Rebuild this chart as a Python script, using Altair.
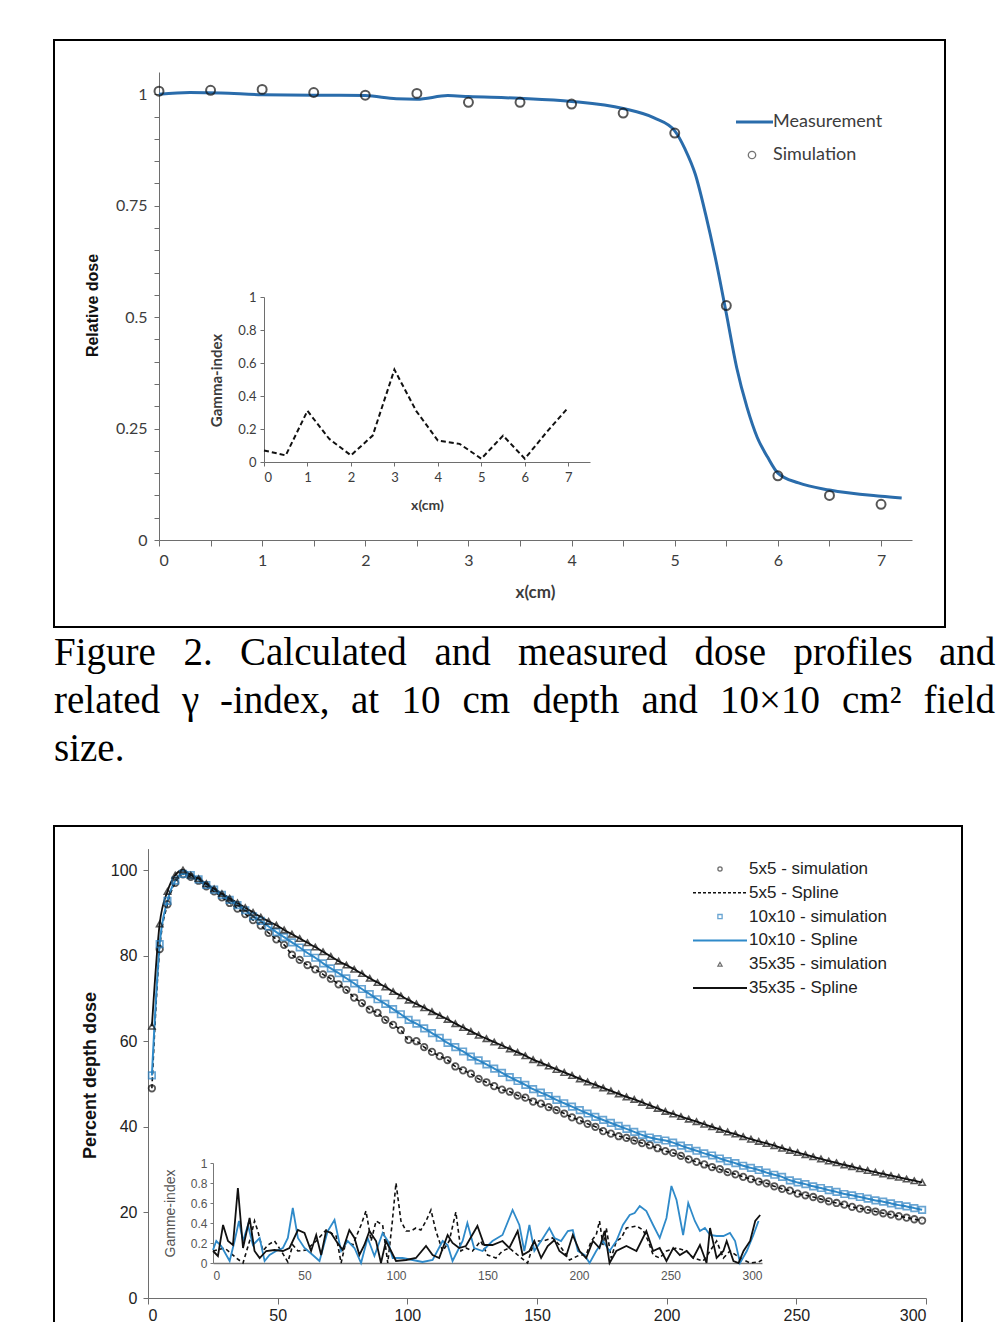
import altair as alt
import pandas as pd

W, H = 988, 1314


def P(v):
    """page pixel -> plot pixel (page has an 8px margin)"""
    return v - 8


# ---------------- Figure 2 : dose profile ----------------
prof_x = [0, 0.5, 1, 1.5, 2, 2.5, 3, 3.5, 4, 4.5, 5, 5.5, 6, 6.5, 7]
prof_sim = [1.007, 1.009, 1.011, 1.004, 0.998, 1.002, 0.982, 0.982, 0.978, 0.958,
            0.913, 0.526, 0.144, 0.100, 0.080]
prof_gamma = [0.07, 0.04, 0.31, 0.14, 0.04, 0.16, 0.56, 0.31, 0.13, 0.11,
              0.02, 0.16, 0.02, 0.18, 0.33]
meas_x = [0, 0.3, 0.6, 1.0, 1.5, 2.0, 2.3, 2.5, 2.8, 3.0, 3.5, 4.0, 4.5, 4.8, 5.0,
          5.1, 5.2, 5.3, 5.4, 5.5, 5.6, 5.7, 5.8, 5.9, 6.0, 6.2, 6.5, 7.0, 7.2]
meas_y = [1.000, 1.004, 1.003, 0.999, 0.998, 0.997, 0.990, 0.989, 0.997, 0.995,
          0.991, 0.984, 0.968, 0.947, 0.918, 0.877, 0.820, 0.730, 0.626, 0.508,
          0.387, 0.298, 0.230, 0.186, 0.150, 0.128, 0.112, 0.098, 0.094]
top_legend = ["Measurement", "Simulation"]

# ---------------- caption ----------------
cap_words = [["Figure", "2.", "Calculated", "and", "measured", "dose", "profiles", "and"],
             ["related", "\u03b3", "-index,", "at", "10", "cm", "depth", "and", "10\u00d710",
              "cm\u00b2", "field"],
             ["size."]]
cap_x = [[54, 183.5, 240, 434.5, 518, 694.5, 793.5, 939],
         [54, 182, 220, 351, 401.5, 462.5, 532.5, 641.5, 720, 842, 923.5],
         [54]]

# ---------------- PDD figure ----------------
depth = [1.5 + 3 * i for i in range(100)]
pdd_5 = [49, 81.5, 92, 97, 99, 98.4, 97.5, 96.2, 95, 93.6,
         92.3, 91, 89.7, 88.3, 87, 85.3, 83.8, 82.5, 80.2, 79,
         77.8, 76.8, 75.6, 74.6, 73.3, 72, 70.2, 68.9, 67.4, 66.6,
         65, 63.8, 62.6, 60.3, 60, 58.6, 57.5, 56.5, 55.6, 54.1,
         53.2, 52.4, 51.2, 50.4, 49.5, 48.7, 48.2, 47.3, 46.8, 45.9,
         45.4, 44.6, 43.9, 43.1, 42.2, 41.5, 40.7, 40, 39, 38.4,
         37.8, 37.4, 36.8, 36.2, 35.7, 35, 34.3, 33.9, 33.2, 32.4,
         31.8, 31.2, 30.6, 30.1, 29.4, 28.9, 28.3, 27.8, 27.2, 26.8,
         26.1, 25.5, 25.1, 24.4, 24.0, 23.6, 23.1, 22.6, 22.2, 21.8,
         21.3, 20.9, 20.6, 20.2, 19.8, 19.5, 19.1, 18.8, 18.4, 18.1]
pdd_10 = [52, 82.7, 92.8, 97.5, 99.1, 98.8, 97.8, 96.5, 95.4, 94.2,
          93, 91.8, 90.6, 89.2, 88.1, 86.8, 85.5, 84.3, 83.1, 81.9,
          80.6, 79.5, 78.2, 77, 75.9, 74.7, 73.5, 72.2, 71, 69.8,
          68.7, 67.5, 66.3, 65, 64.1, 63, 61.9, 60.8, 59.6, 58.6,
          57.6, 56.4, 55.5, 54.6, 53.6, 52.6, 51.6, 50.7, 49.8, 48.8,
          48, 47.2, 46.3, 45.5, 44.7, 43.9, 43.1, 42.3, 41.6, 40.9,
          40.2, 39.5, 38.8, 38.1, 37.5, 37.1, 36.8, 36.3, 35.6, 35,
          34.4, 33.8, 33.3, 32.6, 32, 31.5, 30.9, 30.4, 29.9, 29.3,
          28.8, 28.3, 27.5, 27, 26.6, 26.1, 25.7, 25.2, 24.8, 24.3,
          24, 23.6, 23.2, 22.8, 22.5, 22.1, 21.7, 21.4, 21, 20.6]
pdd_35 = [63.5, 87.4, 95, 98.8, 100, 98.8, 98, 96.8, 95.6, 94.5,
          93.4, 92.3, 91.2, 90.1, 89, 88, 87.1, 86, 85, 84,
          83, 82, 80.9, 79.8, 78.7, 77.8, 76.8, 75.8, 74.7, 73.7,
          72.7, 71.6, 70.6, 69.6, 68.7, 67.8, 66.9, 66, 65.1, 64.1,
          63.2, 62.3, 61.4, 60.6, 59.8, 59, 58.2, 57.4, 56.6, 55.7,
          55, 54.2, 53.4, 52.7, 52, 51.2, 50.5, 49.8, 49.1, 48.4,
          47.7, 47, 46.4, 45.7, 45, 44.3, 43.6, 43, 42.4, 41.8,
          41.2, 40.6, 40, 39.4, 38.8, 38.3, 37.7, 37.1, 36.6, 36.1,
          35.6, 35, 34.5, 34, 33.5, 33, 32.5, 32, 31.6, 31.1,
          30.7, 30.2, 29.8, 29.4, 29, 28.6, 28.2, 27.8, 27.4, 27]

g5_d = [0, 6.4, 12.7, 16.4, 20, 22.7, 24.5, 27.3, 30, 33.6, 37.3, 40.9, 43.6, 46.4, 50.9,
        56.4, 61.8, 64.5, 67.3, 70, 72.7, 76.4, 80.9, 83.6, 86.4, 89.1, 92.7, 95.5, 97.8, 100,
        102.7, 105.5, 108.2, 110.9, 113.6, 116.4, 119.1, 121.8, 125.5, 129.1, 132.7, 135.5,
        138.2, 141.8, 146.3, 150, 154.6, 158.2, 161.9, 166.5, 171.9, 175.6, 180.2, 185.6,
        189.3, 194.8, 200.3, 203.9, 206.7, 209.4, 211.2, 213.1, 214.9, 217.6, 220.4, 223.1,
        225.9, 231.4, 235, 237.8, 240.5, 244.1, 247.8, 253.3, 258.8, 262.4, 267.9, 271.6,
        275.2, 278.9, 282.5, 288, 293.5, 298.1, 300]
g5_v = [0.12, 0.15, 0.05, 0, 0.22, 0.42, 0.32, 0.12, 0.18, 0.22, 0.12, 0.01, 0.18, 0.12, 0.13,
        0.22, 0.33, 0.3, 0.27, 0, 0.22, 0.18, 0.38, 0.52, 0.22, 0.42, 0.38, 0, 0.38, 0.8,
        0.42, 0.32, 0.32, 0.35, 0.33, 0.42, 0.53, 0.32, 0.12, 0.22, 0.51, 0.12,
        0.15, 0.12, 0.22, 0.08, 0.05, 0.12, 0.15, 0.08, 0, 0.22, 0.22, 0.25,
        0.18, 0.03, 0.08, 0.08, 0.22, 0.28, 0.42, 0.18, 0.35, 0.05, 0.22, 0.25,
        0.35, 0.37, 0.33, 0.22, 0.08, 0.05, 0.12, 0.15, 0.12, 0.05, 0.02, 0.12,
        0.22, 0.05, 0.12, 0.05, 0, 0.01, 0.03]
g10_d = [0, 1.8, 4.5, 9.1, 11.8, 14.2, 16.4, 19.1, 21.8, 25.5, 28.2, 30.9, 34.5, 38.2, 40.9,
         43.6, 46.4, 50, 54.5, 58.2, 62.7, 66.4, 70, 73.6, 77.3, 80.9, 84.5, 88.2, 92.7, 95.5,
         98.2, 103.6, 109.1, 114.5, 120, 125.5, 128.2, 130.9, 136.4, 139, 142.7, 147.3, 152.7,
         158.2, 163.7, 167.4, 170.1, 172.9, 175.6, 179.3, 183.8, 186.6, 190.2, 193.9, 196.6,
         199.4, 203, 205.8, 209.4, 213.1, 216.7, 220.4, 224, 227.7, 230.4, 233.2, 236.8, 240.5,
         244.1, 247.8, 250.5, 253.3, 256.9, 259.7, 263.3, 266.1, 268.8, 271.6, 275.2, 278.9,
         282.5, 285.3, 288, 291.7, 295.3, 298.1]
g10_v = [0.13, 0.22, 0.17, 0.02, 0.22, 0.42, 0.22, 0.38, 0.18, 0.25, 0.02, 0.08, 0.12, 0.15, 0.25,
         0.55, 0.25, 0.15, 0.08, 0.02, 0.32, 0.43, 0.12, 0.22, 0.15, 0, 0.25, 0.07, 0.3, 0.22,
         0.05, 0.05, 0.03, 0.01, 0.03, 0.22, 0.18, 0.02, 0.22, 0.4, 0.15, 0.12, 0.22,
         0.28, 0.53, 0.38, 0.12, 0.38, 0.12, 0.22, 0.35, 0.25, 0.22, 0.32, 0.33,
         0.12, 0.08, 0, 0.12, 0.22, 0.12, 0.22, 0.38, 0.48, 0.5, 0.57, 0.52, 0.38,
         0.25, 0.45, 0.77, 0.63, 0.28, 0.6, 0.42, 0.32, 0.35, 0.28, 0.27, 0.27,
         0.3, 0.22, 0, 0.12, 0.28, 0.42]
g35_d = [0, 2.7, 5.5, 8.2, 10.9, 13.6, 16.4, 18.2, 20, 22.7, 25.5, 29.1, 33.6, 38.2, 41.8,
         46.4, 50, 53.6, 56.4, 59.1, 61.8, 64.5, 67.3, 70.9, 74.5, 77.3, 80, 82.7, 85.5, 89.1,
         91.8, 94.5, 97.3, 100, 105.5, 110.9, 116.4, 120, 123.6, 128.2, 130.9, 134.5, 138.2,
         144.5, 148.2, 152.7, 158.2, 161.9, 166.5, 169.2, 172.9, 175.6, 179.3, 182.9, 186.6,
         189.3, 193, 196.6, 200.3, 203.9, 207.6, 211.2, 214, 216.7, 220.4, 225.9, 231.4, 236.8,
         240.5, 244.1, 247.8, 251.5, 255.1, 258.8, 262.4, 266.1, 269.7, 271.6, 275.2, 278.9,
         280.7, 284.4, 287.2, 289.9, 293.5, 296.3, 299]
g35_v = [0.12, 0.07, 0.38, 0.22, 0.18, 0.75, 0.15, 0.3, 0.45, 0.12, 0.05, 0.12, 0.13, 0.12, 0.15,
         0.33, 0.3, 0.12, 0.28, 0.08, 0.32, 0.3, 0.22, 0.13, 0.33, 0.25, 0.08, 0.18, 0.32, 0.22,
         0, 0.22, 0.12, 0.02, 0.03, 0.05, 0.17, 0.08, 0.05, 0.28, 0.2, 0.15, 0.17,
         0.37, 0.18, 0.18, 0.22, 0.15, 0.32, 0.08, 0.12, 0.22, 0.05, 0.17, 0.23,
         0.12, 0.07, 0.28, 0.12, 0.05, 0.22, 0.15, 0.32, 0, 0.12, 0.17, 0.12, 0.32,
         0.12, 0.15, 0.02, 0.15, 0.08, 0.12, 0.05, 0.18, 0, 0.35, 0.05, 0.12,
         0.22, 0.02, 0, 0.12, 0.22, 0.42, 0.48]
bot_legend = ["5x5 - simulation", "5x5 - Spline", "10x10 - simulation",
              "10x10 - Spline", "35x35 - simulation", "35x35 - Spline"]

# ---------------- tables ----------------
df_meas = pd.DataFrame({"x": meas_x, "y": meas_y})
df_prof = pd.DataFrame({"x": prof_x, "sim": prof_sim, "gamma": prof_gamma})
df_tleg = pd.DataFrame({"label": top_legend, "row": [0, 1]})
rows = []
for li, (ws, xs) in enumerate(zip(cap_words, cap_x)):
    for w, x in zip(ws, xs):
        rows.append({"word": w, "x": P(x), "line": li})
df_cap = pd.DataFrame(rows)
df_pdd = pd.DataFrame({"d": depth, "p5": pdd_5, "p10": pdd_10, "p35": pdd_35})
df_g5 = pd.DataFrame({"d": g5_d, "g": g5_v})
df_g10 = pd.DataFrame({"d": g10_d, "g": g10_v})
df_g35 = pd.DataFrame({"d": g35_d, "g": g35_v})
df_bleg = pd.DataFrame({"label": bot_legend, "row": list(range(6))})
one = pd.DataFrame({"k": [0]})

BLUE_T = "#2a6cab"
BLUE_B = "#2f8ac9"
AXC = "#6e6e6e"
TXT = "#3c3c3c"
FT = "Lato"
FB = "Liberation Sans"


def sc(domain, rng):
    return alt.Scale(domain=domain, range=rng, nice=False, zero=False)


# ================= top figure =================
XT = ([0, 7.3], [P(159), P(912)])
YT = ([0, 1.05], [P(540), P(72)])
ax_top_x = alt.Axis(orient="bottom", offset=P(540) - H, values=[i * 0.5 for i in range(15)],
                    format="~g", labelExpr="datum.value % 1 == 0 ? datum.label : ''",
                    labelOverlap=False, tickSize=6, tickColor=AXC, domainColor=AXC,
                    labelFont=FT, labelFontSize=16, labelColor=TXT, labelPadding=6,
                    title="x(cm)", titleFont=FT, titleFontSize=17, titleFontWeight="bold",
                    titleColor=TXT, titleX=P(535), titleY=592 - 540, titleAlign="center",
                    titleBaseline="middle", titleAngle=0, grid=False)
ax_top_y = alt.Axis(orient="left", offset=-P(159), values=[round(i * 0.05, 2) for i in range(21)],
                    format="~g",
                    labelExpr="abs(datum.value*4 - round(datum.value*4)) < 0.001 ? datum.label : ''",
                    labelOverlap=False, tickSize=5, tickColor=AXC, domainColor=AXC,
                    labelFont=FT, labelFontSize=16, labelColor=TXT, labelPadding=7,
                    title="Relative dose", titleFont=FB, titleFontSize=16, titleFontWeight="bold",
                    titleColor="#111", titleX=92 - 159, titleY=P(305), titleAngle=270,
                    titleAlign="center", titleBaseline="middle", grid=False)

top_line = alt.Chart(df_meas).mark_line(color=BLUE_T, strokeWidth=3, interpolate="monotone").encode(
    x=alt.X("x:Q", scale=sc(*XT), axis=ax_top_x),
    y=alt.Y("y:Q", scale=sc(*YT), axis=ax_top_y))
top_pts = alt.Chart(df_prof).mark_point(shape="circle", filled=False, size=80, strokeWidth=2,
                                        color="#111").encode(
    x=alt.X("x:Q", scale=sc(*XT), axis=None),
    y=alt.Y("sim:Q", scale=sc(*YT), axis=None))

XI = ([0, 7.5], [P(264), P(590)])
YI = ([0, 1], [P(462), P(297)])
ax_in_x = alt.Axis(orient="bottom", offset=P(462) - H, values=list(range(8)), format="d",
                   tickSize=4, tickColor=AXC, domainColor=AXC, labelFont=FT, labelFontSize=13,
                   labelColor=TXT, labelPadding=5, title="x(cm)", titleFont=FT, titleFontSize=14,
                   titleFontWeight="bold", titleColor=TXT, titleX=P(427), titleY=505 - 462,
                   titleAlign="center", titleBaseline="middle", titleAngle=0, grid=False)
ax_in_y = alt.Axis(orient="left", offset=-P(264), values=[0, 0.2, 0.4, 0.6, 0.8, 1],
                   format="~g", tickSize=4, tickColor=AXC, domainColor=AXC, labelFont=FT,
                   labelFontSize=13, labelColor=TXT, labelPadding=4, title="Gamma-index",
                   titleFont=FT, titleFontSize=15, titleFontWeight="bold", titleColor=TXT,
                   titleX=216 - 264, titleY=P(380), titleAngle=270, titleAlign="center",
                   titleBaseline="middle", grid=False)
top_inset = alt.Chart(df_prof).mark_line(color="#111", strokeWidth=2, strokeDash=[5, 3]).encode(
    x=alt.X("x:Q", scale=sc(*XI), axis=ax_in_x),
    y=alt.Y("gamma:Q", scale=sc(*YI), axis=ax_in_y))

tleg_y = alt.Y("row:Q", scale=sc([0, 1], [P(122), P(155)]), axis=None)
tleg_text = alt.Chart(df_tleg).mark_text(align="left", baseline="middle", font=FT, fontSize=18,
                                         color=TXT).encode(
    x=alt.value(P(773)), y=tleg_y, text="label:N")
tleg_line = alt.Chart(df_tleg).transform_filter("datum.row == 0").mark_rule(
    color=BLUE_T, strokeWidth=3).encode(x=alt.value(P(736)), x2=alt.value(P(773)), y=tleg_y)
tleg_pt = alt.Chart(df_tleg).transform_filter("datum.row == 1").mark_point(
    shape="circle", filled=False, size=55, strokeWidth=1.3, color=TXT).encode(
    x=alt.value(P(752)), y=tleg_y)
top_box = alt.Chart(one).mark_rect(fillOpacity=0, stroke="#000", strokeWidth=2).encode(
    x=alt.value(P(54)), x2=alt.value(P(945)), y=alt.value(P(40)), y2=alt.value(P(627)))

# ================= caption =================
caption = alt.Chart(df_cap).mark_text(align="left", baseline="alphabetic", font="Liberation Serif",
                                      fontSize=39, color="#000").encode(
    x=alt.X("x:Q", scale=sc([0, W], [0, W]), axis=None),
    y=alt.Y("line:Q", scale=sc([0, 2], [P(665), P(761)]), axis=None),
    text="word:N")

# ================= bottom figure =================
XB = ([0, 300], [P(148), P(926)])
YB = ([0, 105], [P(1298), P(848.6)])
ax_b_x = alt.Axis(orient="bottom", offset=P(1298) - H, values=[0, 50, 100, 150, 200, 250, 300],
                  format="d", tickSize=6, tickColor=AXC, domainColor=AXC, labelFont=FB,
                  labelFontSize=16, labelColor="#222", labelPadding=3, title=None, grid=False)
ax_b_y = alt.Axis(orient="left", offset=-P(148), values=[0, 20, 40, 60, 80, 100], format="d",
                  tickSize=5, tickColor=AXC, domainColor=AXC, labelFont=FB, labelFontSize=16,
                  labelColor="#222", labelPadding=6, title="Percent depth dose", titleFont=FB,
                  titleFontSize=18, titleFontWeight="bold", titleColor="#111",
                  titleX=90 - 148, titleY=P(1075), titleAngle=270, titleAlign="center",
                  titleBaseline="middle", grid=False)


def bx(axis=None):
    return alt.X("d:Q", scale=sc(*XB), axis=axis)


l5 = alt.Chart(df_pdd).mark_line(color="#111", strokeWidth=1.6, strokeDash=[4, 3],
                                 interpolate="monotone").encode(
    x=bx(ax_b_x), y=alt.Y("p5:Q", scale=sc(*YB), axis=ax_b_y))
l10 = alt.Chart(df_pdd).mark_line(color=BLUE_B, strokeWidth=2, interpolate="monotone").encode(
    x=bx(), y=alt.Y("p10:Q", scale=sc(*YB), axis=None))
l35 = alt.Chart(df_pdd).mark_line(color="#111", strokeWidth=1.8, interpolate="monotone").encode(
    x=bx(), y=alt.Y("p35:Q", scale=sc(*YB), axis=None))
p5 = alt.Chart(df_pdd).mark_point(shape="circle", filled=False, size=42, strokeWidth=1.8,
                                  color="#111").encode(
    x=bx(), y=alt.Y("p5:Q", scale=sc(*YB), axis=None))
p10 = alt.Chart(df_pdd).mark_point(shape="square", filled=False, size=42, strokeWidth=1.7,
                                   color="#2a7fc0").encode(
    x=bx(), y=alt.Y("p10:Q", scale=sc(*YB), axis=None))
p35 = alt.Chart(df_pdd).mark_point(shape="triangle-up", filled=False, size=40, strokeWidth=1.6,
                                   color="#111").encode(
    x=bx(), y=alt.Y("p35:Q", scale=sc(*YB), axis=None))

XBI = ([0, 300], [P(213), P(762)])
YBI = ([0, 1], [P(1263), P(1163)])
ax_bi_x = alt.Axis(orient="bottom", offset=P(1263) - H, values=[0, 50, 100, 150, 200, 250, 300],
                   format="d", tickSize=0, domainColor="#777", domainWidth=1.5, labelFont=FB,
                   labelFontSize=12, labelColor="#555", labelPadding=7, title=None, grid=False)
ax_bi_y = alt.Axis(orient="left", offset=-P(213), values=[0, 0.2, 0.4, 0.6, 0.8, 1], format="~g",
                   tickSize=3, tickColor="#777", domainColor="#777", labelFont=FB,
                   labelFontSize=12, labelColor="#555", labelPadding=3, title="Gamme-index",
                   titleFont=FB, titleFontSize=14, titleFontWeight="normal", titleColor="#555",
                   titleX=170 - 213, titleY=P(1213), titleAngle=270, titleAlign="center",
                   titleBaseline="middle", grid=False)
gi5 = alt.Chart(df_g5).mark_line(color="#111", strokeWidth=1.6, strokeDash=[4, 3]).encode(
    x=alt.X("d:Q", scale=sc(*XBI), axis=ax_bi_x), y=alt.Y("g:Q", scale=sc(*YBI), axis=ax_bi_y))
gi10 = alt.Chart(df_g10).mark_line(color=BLUE_B, strokeWidth=1.8).encode(
    x=alt.X("d:Q", scale=sc(*XBI), axis=None), y=alt.Y("g:Q", scale=sc(*YBI), axis=None))
gi35 = alt.Chart(df_g35).mark_line(color="#111", strokeWidth=1.8).encode(
    x=alt.X("d:Q", scale=sc(*XBI), axis=None), y=alt.Y("g:Q", scale=sc(*YBI), axis=None))

bleg_y = alt.Y("row:Q", scale=sc([0, 5], [P(869), P(988)]), axis=None)
bleg_text = alt.Chart(df_bleg).mark_text(align="left", baseline="middle", font=FB, fontSize=17,
                                         color="#222").encode(
    x=alt.value(P(749)), y=bleg_y, text="label:N")
bleg_c = alt.Chart(df_bleg).transform_filter("datum.row == 0").mark_point(
    shape="circle", filled=False, size=18, strokeWidth=1.3, color="#333").encode(
    x=alt.value(P(720)), y=bleg_y)
bleg_s = alt.Chart(df_bleg).transform_filter("datum.row == 2").mark_point(
    shape="square", filled=False, size=18, strokeWidth=1.3, color="#2a7fc0").encode(
    x=alt.value(P(720)), y=bleg_y)
bleg_t = alt.Chart(df_bleg).transform_filter("datum.row == 4").mark_point(
    shape="triangle-up", filled=False, size=18, strokeWidth=1.2, color="#333").encode(
    x=alt.value(P(720)), y=bleg_y)
bleg_l1 = alt.Chart(df_bleg).transform_filter("datum.row == 1").mark_rule(
    color="#111", strokeWidth=1.6, strokeDash=[3, 2]).encode(
    x=alt.value(P(693)), x2=alt.value(P(747)), y=bleg_y)
bleg_l3 = alt.Chart(df_bleg).transform_filter("datum.row == 3").mark_rule(
    color=BLUE_B, strokeWidth=2).encode(x=alt.value(P(693)), x2=alt.value(P(747)), y=bleg_y)
bleg_l5 = alt.Chart(df_bleg).transform_filter("datum.row == 5").mark_rule(
    color="#111", strokeWidth=2).encode(x=alt.value(P(693)), x2=alt.value(P(747)), y=bleg_y)
bot_box = alt.Chart(one).mark_rect(fillOpacity=0, stroke="#000", strokeWidth=2).encode(
    x=alt.value(P(54)), x2=alt.value(P(962)), y=alt.value(P(826)), y2=alt.value(P(1345)))

chart = alt.layer(
    top_box, top_line, top_pts, top_inset, tleg_line, tleg_pt, tleg_text,
    caption,
    bot_box, l5, l10, l35, p5, p10, p35, gi5, gi10, gi35,
    bleg_l1, bleg_l3, bleg_l5, bleg_c, bleg_s, bleg_t, bleg_text,
).resolve_scale(x="independent", y="independent").properties(
    width=W, height=H, autosize=alt.AutoSizeParams(type="none"), padding=0, background="white"
).configure_view(strokeOpacity=0).configure_axis(grid=False)

chart.save("out.html", embed_options={"renderer": "svg", "actions": False})
